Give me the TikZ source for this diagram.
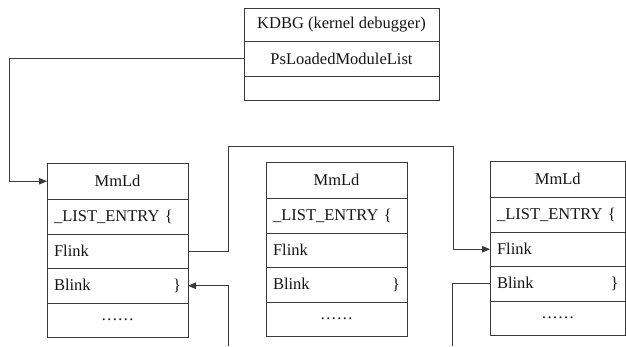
\documentclass[tikz,border=0pt]{standalone}
\usepackage{fontspec}
\setmainfont{Liberation Serif}
\usetikzlibrary{arrows.meta,positioning}
\definecolor{linegray}{HTML}{3A3A3A}
\definecolor{inkblack}{HTML}{151515}

% One MmLd record: #1 name prefix, #2 left x, #3 top y, #4 width, #5 inner text width
\newcommand\mmldrecord[5]{%
  \node[hcell, minimum width=#4pt, anchor=north west] (#1h) at (#2,#3) {MmLd};
  \node[lcell, minimum width=#4pt, text width=#5pt, below=0pt of #1h] (#1l) {\_LIST\_ENTRY \{};
  \node[lcell, minimum width=#4pt, text width=#5pt, below=0pt of #1l] (#1f) {Flink};
  \node[lcell, minimum width=#4pt, text width=#5pt, below=0pt of #1f] (#1b) {Blink\hfill\}};
  \node[hcell, minimum width=#4pt, minimum height=34pt, below=0pt of #1b] (#1d) {……};
}

\begin{document}
\begin{tikzpicture}[x=1pt,y=-1pt,
  font=\fontsize{16.5}{19}\selectfont,
  every node/.style={text=inkblack},
  box/.style={draw=linegray, line width=1pt, outer sep=0pt, inner ysep=0pt, minimum height=34.5pt},
  hcell/.style={box, minimum height=36.5pt, align=center, inner xsep=0pt},
  lcell/.style={box, inner xsep=7pt, align=left},
  kcell/.style={box, minimum width=195pt, align=center, inner xsep=0pt},
  wire/.style={draw=linegray, line width=1pt},
  arr/.style={wire, -{Triangle[length=8pt,width=6.5pt]}}]

\useasboundingbox (0,0) rectangle (626,346);

% kernel debugger block
\node[kcell, minimum height=33pt, anchor=north west] (k1) at (244,8) {KDBG (kernel debugger)};
\node[kcell, minimum height=35pt, below=0pt of k1] (k2) {PsLoadedModuleList};
\node[kcell, minimum height=24pt, below=0pt of k2] (k3) {};

% loaded module records
\mmldrecord{a}{47}{163}{141}{127}
\mmldrecord{b}{266}{162}{141}{127}
\mmldrecord{c}{490}{161}{135.5}{121.5}

% list head to first record
\draw[arr] (k2.west) -| ([xshift=-38pt]ah.west) -- (ah.west);

% forward link from first record to third
\coordinate (ftop) at (453,146);
\draw[arr] (af.east) -- ++(40,0) |- (ftop) |- (cf.west);

% backward links leaving the picture
\coordinate (e1) at (228,346);
\draw[arr] (e1) |- (ab.east);
\coordinate (e3) at (452,346);
\draw[wire] (cb.west) -| (e3);

\end{tikzpicture}
\end{document}
